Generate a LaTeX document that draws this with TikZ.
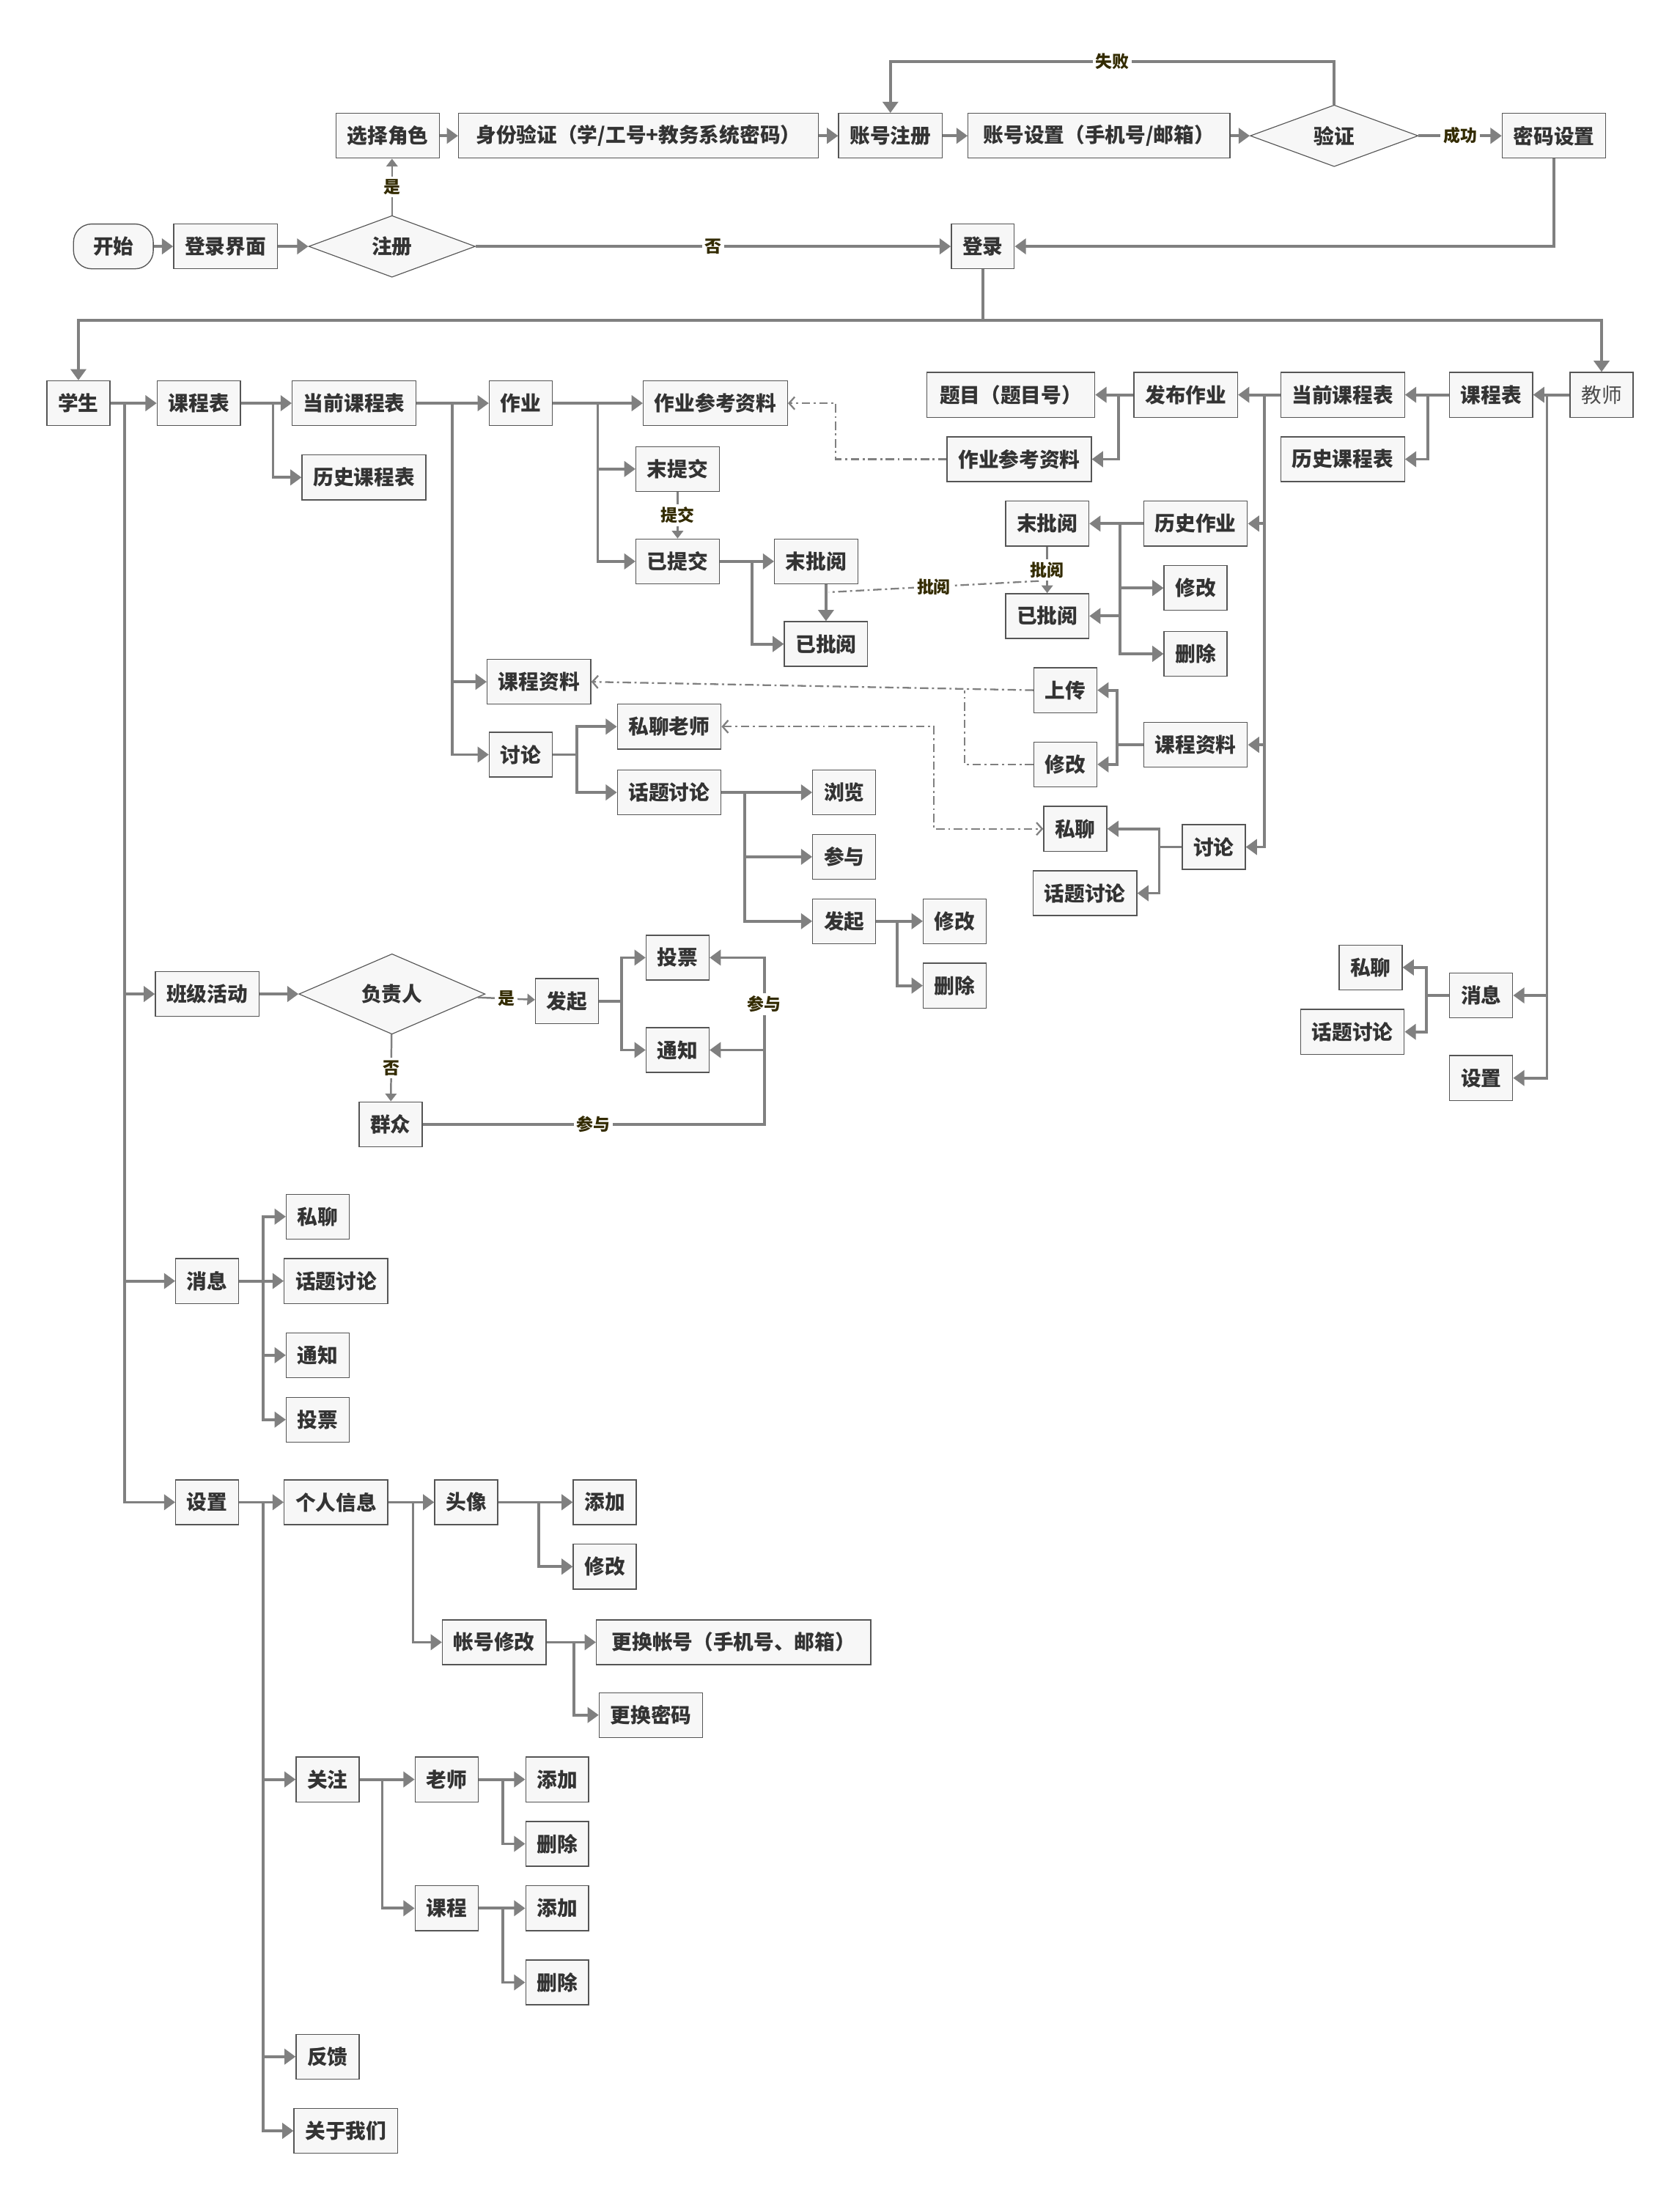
\documentclass[tikz,border=0pt]{standalone}
\usepackage{fontspec}
\setmainfont{Noto Sans CJK SC}
\usepackage{tikz}
\usetikzlibrary{arrows.meta, positioning, shapes.geometric, calc}

\definecolor{boxfill}{HTML}{F7F7F7}
\definecolor{boxline}{HTML}{555555}
\definecolor{linegray}{HTML}{808080}
\definecolor{lblcolor}{HTML}{332B00}
\definecolor{txtcolor}{HTML}{333333}

\tikzset{
  box/.style={draw=boxline, fill=boxfill, line width=0.7pt, minimum height=32pt,
    inner xsep=8pt, inner ysep=0pt, text=txtcolor,
    font=\fontsize{14.5}{17}\selectfont\bfseries},
  dia/.style={diamond, draw=boxline, fill=boxfill, line width=0.6pt, inner sep=0pt,
    text=txtcolor, font=\fontsize{14.5}{17}\selectfont\bfseries},
  conn/.style={draw=linegray, line width=2pt, -{Triangle[length=8pt,width=11pt]}},
  thinconn/.style={draw=linegray, line width=1.3pt, -{Triangle[length=5.5pt,width=8pt]}},
  dd/.style={draw=linegray, line width=1.2pt, dash pattern=on 6pt off 2.5pt on 1.5pt off 2.5pt,
    -{Straight Barb[length=4pt,width=9pt]}},
  ddboth/.style={dd, {Straight Barb[length=4pt,width=9pt]}-{Straight Barb[length=4pt,width=9pt]}},
  lbl/.style={fill=white, inner sep=2pt, text=lblcolor,
    font=\fontsize{12}{13}\selectfont\bfseries},
}

\begin{document}
\begin{tikzpicture}[x=1pt, y=-1pt]
  \fill[white] (0,0) rectangle (1200,1570.7);
  \useasboundingbox (0,0) rectangle (1200,1570.7);

  % --- login / register ---
  \node[box, rounded corners=13pt, minimum width=57pt] (start) at (81,176) {开始};
  \node[box] (loginui) at (161,176) {登录界面};
  \node[dia, minimum width=119pt, minimum height=44pt] (reg) at (280,176) {注册};
  \node[box] (role) at (277,97) {选择角色};
  \node[box, minimum width=257pt] (ident) at (456,97) {身份验证（学/工号+教务系统密码）};
  \node[box] (acct) at (636,97) {账号注册};
  \node[box, minimum width=187pt] (acctset) at (785,97) {账号设置（手机号/邮箱）};
  \node[dia, minimum width=120pt, minimum height=44pt] (verify) at (953,97) {验证};
  \node[box] (pwd) at (1110,97) {密码设置};
  \node[box] (login) at (702,176) {登录};

  \coordinate (failtop) at (0,44);
  \coordinate (split) at (702,229);

  \draw[conn] (start) -- (loginui);
  \draw[conn] (loginui) -- (reg);
  \draw[thinconn] (reg.north) -- node[lbl]{是} (reg.north |- role.south);
  \draw[conn] (role) -- (ident);
  \draw[conn] (ident) -- (acct);
  \draw[conn] (acct) -- (acctset);
  \draw[conn] (acctset) -- (verify);
  \draw[conn] (verify) -- node[lbl]{成功} (pwd);
  \draw[conn] (verify.north) -- (verify.north |- failtop) -| node[lbl, pos=0.25]{失败} (acct.north);
  \draw[conn] (reg) -- node[lbl]{否} (login);
  \draw[conn] (pwd.south) |- (login.east);

  % --- student ---
  \node[box] (stu) at (56,288) {学生};
  \node[box] (sCourse) at (142,288) {课程表};
  \node[box] (sCur) at (253,288) {当前课程表};
  \node[box] (sHist) at (260,341) {历史课程表};
  \node[box] (sHw) at (372,288) {作业};
  \node[box] (sHwRef) at (511,288) {作业参考资料};
  \node[box] (sNotSub) at (484,335) {末提交};
  \node[box] (sSub) at (484,401) {已提交};
  \node[box] (sNotRev) at (583,401) {末批阅};
  \node[box] (sRev) at (590,460) {已批阅};
  \node[box] (sMat) at (385,487) {课程资料};
  \node[box] (sDisc) at (372,539) {讨论};
  \node[box] (sChatT) at (478,519) {私聊老师};
  \node[box] (sTopic) at (478,566) {话题讨论};
  \node[box] (sBrowse) at (603,566) {浏览};
  \node[box] (sJoin) at (603,612) {参与};
  \node[box] (sStart) at (603,658) {发起};
  \node[box] (sEdit) at (682,658) {修改};
  \node[box] (sDel) at (682,704) {删除};

  \coordinate (jStu) at (89,0);
  \coordinate (jCourse) at (195,0);
  \coordinate (jCur) at (323,0);
  \coordinate (jHw) at (427,0);
  \coordinate (jSub) at (537,0);
  \coordinate (jDisc) at (412,0);
  \coordinate (jTopic) at (532,0);
  \coordinate (jStart) at (641,0);

  \draw[conn] (login.south) -- (split) -| (stu.north);
  \draw[conn] (stu) -- (sCourse);
  \draw[conn] (sCourse) -- (sCur);
  \draw[conn] (sCourse.east -| jCourse) |- (sHist.west);
  \draw[conn] (sCur) -- (sHw);
  \draw[conn] (sCur.east -| jCur) |- (sMat.west);
  \draw[conn] (sCur.east -| jCur) |- (sDisc.west);
  \draw[conn] (sHw) -- (sHwRef);
  \draw[conn] (sHw.east -| jHw) |- (sNotSub.west);
  \draw[conn] (sHw.east -| jHw) |- (sSub.west);
  \draw[thinconn] (sNotSub) -- node[lbl]{提交} (sSub);
  \draw[conn] (sSub) -- (sNotRev);
  \draw[conn] (sSub.east -| jSub) |- (sRev.west);
  \draw[conn] (sNotRev.south -| sRev.north) -- (sRev.north);
  \draw[conn] (sDisc.east) -- (sDisc.east -| jDisc) |- (sChatT.west);
  \draw[conn] (sDisc.east) -- (sDisc.east -| jDisc) |- (sTopic.west);
  \draw[conn] (sTopic) -- (sBrowse);
  \draw[conn] (sTopic.east -| jTopic) |- (sJoin.west);
  \draw[conn] (sTopic.east -| jTopic) |- (sStart.west);
  \draw[conn] (sStart) -- (sEdit);
  \draw[conn] (sStart.east -| jStart) |- (sDel.west);

  % --- class activity ---
  \node[box] (sClass) at (148,710) {班级活动};
  \node[dia, minimum width=133pt, minimum height=49pt] (lead) at (280,710) {负责人};
  \node[box] (sLaunch) at (405,715) {发起};
  \node[box] (sVote) at (484,684) {投票};
  \node[box] (sNotice) at (484,750) {通知};
  \node[box] (crowd) at (279,803) {群众};

  \coordinate (jLaunch) at (444,0);
  \coordinate (jJoin) at (546,0);

  \draw[conn] (stu.east -| jStu) |- (sClass.west);
  \draw[conn] (sClass) -- (lead);
  \draw[thinconn] (lead) -- node[lbl]{是} (sLaunch);
  \draw[conn] (sLaunch.east) -- (sLaunch.east -| jLaunch) |- (sVote.west);
  \draw[conn] (sLaunch.east) -- (sLaunch.east -| jLaunch) |- (sNotice.west);
  \draw[thinconn] (lead) -- node[lbl]{否} (crowd);
  \draw[conn] (crowd.east) -- node[lbl]{参与} (crowd.east -| jJoin)
    -- node[lbl, pos=0.72]{参与} (sVote.east -| jJoin) -- (sVote.east);
  \draw[conn] (sNotice.east -| jJoin) -- (sNotice.east);

  % --- student messages ---
  \node[box] (sMsg) at (148,915) {消息};
  \node[box] (sChat) at (227,869) {私聊};
  \node[box] (sTopic2) at (240,915) {话题讨论};
  \node[box] (sNotice2) at (227,968) {通知};
  \node[box] (sVote2) at (227,1014) {投票};

  \coordinate (jMsg) at (188,0);

  \draw[conn] (stu.east -| jStu) |- (sMsg.west);
  \draw[conn] (sMsg) -- (sTopic2);
  \draw[conn] (sMsg.east -| jMsg) |- (sChat.west);
  \draw[conn] (sMsg.east -| jMsg) |- (sNotice2.west);
  \draw[conn] (sMsg.east -| jMsg) |- (sVote2.west);

  % --- student settings ---
  \node[box] (sSet) at (148,1073) {设置};
  \node[box] (info) at (240,1073) {个人信息};
  \node[box] (avatar) at (333,1073) {头像};
  \node[box] (avAdd) at (432,1073) {添加};
  \node[box] (avEdit) at (432,1119) {修改};
  \node[box] (acctEdit) at (353,1173) {帐号修改};
  \node[box, minimum width=196pt] (newAcct) at (524,1173) {更换帐号（手机号、邮箱）};
  \node[box] (newPwd) at (465,1225) {更换密码};
  \node[box] (follow) at (234,1271) {关注};
  \node[box] (fTeacher) at (319,1271) {老师};
  \node[box] (ftAdd) at (398,1271) {添加};
  \node[box] (ftDel) at (398,1317) {删除};
  \node[box] (fCourse) at (319,1363) {课程};
  \node[box] (fcAdd) at (398,1363) {添加};
  \node[box] (fcDel) at (398,1416) {删除};
  \node[box] (feedback) at (234,1469) {反馈};
  \node[box] (about) at (247,1522) {关于我们};

  \coordinate (jInfo) at (295,0);
  \coordinate (jAvatar) at (385,0);
  \coordinate (jAcct) at (410,0);
  \coordinate (jFollow) at (273,0);
  \coordinate (jFol2) at (359,0);

  \draw[conn] (stu.east -| jStu) |- (sSet.west);
  \draw[conn] (sSet) -- (info);
  \draw[conn] (sSet.east -| jMsg) |- (follow.west);
  \draw[conn] (sSet.east -| jMsg) |- (feedback.west);
  \draw[conn] (sSet.east -| jMsg) |- (about.west);
  \draw[conn] (info) -- (avatar);
  \draw[conn] (info.east -| jInfo) |- (acctEdit.west);
  \draw[conn] (avatar) -- (avAdd);
  \draw[conn] (avatar.east -| jAvatar) |- (avEdit.west);
  \draw[conn] (acctEdit) -- (newAcct);
  \draw[conn] (acctEdit.east -| jAcct) |- (newPwd.west);
  \draw[conn] (follow) -- (fTeacher);
  \draw[conn] (follow.east -| jFollow) |- (fCourse.west);
  \draw[conn] (fTeacher) -- (ftAdd);
  \draw[conn] (fTeacher.east -| jFol2) |- (ftDel.west);
  \draw[conn] (fCourse) -- (fcAdd);
  \draw[conn] (fCourse.east -| jFol2) |- (fcDel.west);

  % --- teacher ---
  \node[box, font=\fontsize{14.5}{17}\selectfont, text=black!70] (tea) at (1144,282) {教师};
  \node[box] (tCourse) at (1065,282) {课程表};
  \node[box] (tCur) at (959,282) {当前课程表};
  \node[box] (tHist) at (959,328) {历史课程表};
  \node[box] (tPub) at (847,282) {发布作业};
  \node[box, minimum width=120pt] (tQues) at (722,282) {题目（题目号）};
  \node[box] (tHwRef) at (728,328) {作业参考资料};
  \node[box] (tHistHw) at (854,374) {历史作业};
  \node[box] (tNotRev) at (748,374) {末批阅};
  \node[box] (tRev) at (748,440) {已批阅};
  \node[box] (tEdit) at (854,420) {修改};
  \node[box] (tDel) at (854,467) {删除};
  \node[box] (tMat) at (854,532) {课程资料};
  \node[box] (tUp) at (761,493) {上传};
  \node[box] (tMatEdit) at (761,546) {修改};
  \node[box] (tDisc) at (867,605) {讨论};
  \node[box] (tChat) at (768,592) {私聊};
  \node[box] (tTopic) at (775,638) {话题讨论};
  \node[box] (tMsg) at (1058,711) {消息};
  \node[box] (tChat2) at (979,691) {私聊};
  \node[box] (tTopic2) at (966,737) {话题讨论};
  \node[box] (tSet) at (1058,770) {设置};

  \coordinate (jTea) at (1105,0);
  \coordinate (jtCourse) at (1020,0);
  \coordinate (jtCur) at (903,0);
  \coordinate (jtPub) at (799,0);
  \coordinate (jtHist) at (800,0);
  \coordinate (jtMat) at (798,0);
  \coordinate (jtDisc) at (828,0);
  \coordinate (jtMsg) at (1019,0);

  \draw[conn] (split) -| (tea.north);
  \draw[conn] (tea) -- (tCourse);
  \draw[conn] (tea.west -| jTea) |- (tMsg.east);
  \draw[conn] (tea.west -| jTea) |- (tSet.east);
  \draw[conn] (tCourse) -- (tCur);
  \draw[conn] (tCourse.west -| jtCourse) |- (tHist.east);
  \draw[conn] (tCur) -- (tPub);
  \draw[conn] (tCur.west -| jtCur) |- (tHistHw.east);
  \draw[conn] (tCur.west -| jtCur) |- (tMat.east);
  \draw[conn] (tCur.west -| jtCur) |- (tDisc.east);
  \draw[conn] (tPub) -- (tQues);
  \draw[conn] (tPub.west -| jtPub) |- (tHwRef.east);
  \draw[conn] (tHistHw) -- (tNotRev);
  \draw[conn] (tHistHw.west -| jtHist) |- (tRev.east);
  \draw[conn] (tHistHw.west -| jtHist) |- (tEdit.west);
  \draw[conn] (tHistHw.west -| jtHist) |- (tDel.west);
  \draw[thinconn] (tNotRev) -- node[lbl]{批阅} (tRev);
  \draw[conn] (tMat.west) -- (tMat.west -| jtMat) |- (tUp.east);
  \draw[conn] (tMat.west) -- (tMat.west -| jtMat) |- (tMatEdit.east);
  \draw[conn] (tDisc.west) -- (tDisc.west -| jtDisc) |- (tChat.east);
  \draw[conn] (tDisc.west) -- (tDisc.west -| jtDisc) |- (tTopic.east);
  \draw[conn] (tMsg.west) -- (tMsg.west -| jtMsg) |- (tChat2.east);
  \draw[conn] (tMsg.west) -- (tMsg.west -| jtMsg) |- (tTopic2.east);

  % --- links between teacher and student (dash dot) ---
  \coordinate (ddRef) at (597,0);
  \coordinate (ddMat) at (689,0);
  \coordinate (ddChat) at (667,0);
  \coordinate (revT) at (742,415);
  \coordinate (revS) at (592,423);

  \draw[dd] (tHwRef.west) -- (tHwRef.west -| ddRef) |- (sHwRef.east);
  \draw[dd, -] (revT) -- node[lbl]{批阅} (revS);
  \draw[dd] (tUp.west) -- (sMat.east);
  \draw[dd, -] (tMatEdit.west) -| (ddMat |- tUp.west);
  \draw[ddboth] (sChatT.east) -- (sChatT.east -| ddChat) |- (tChat.west);

\end{tikzpicture}
\end{document}
